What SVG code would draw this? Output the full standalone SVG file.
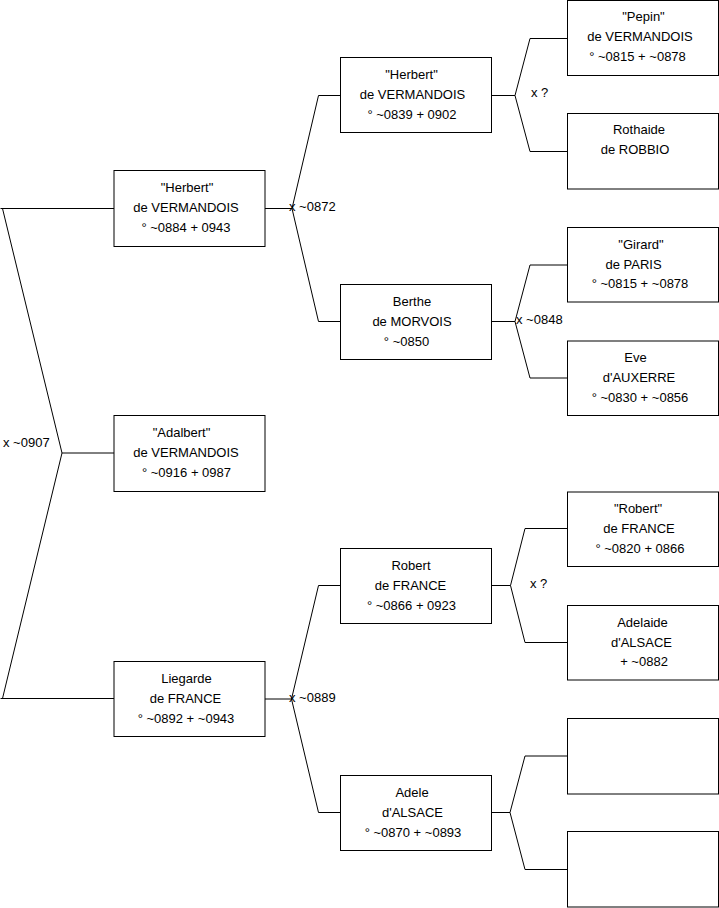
<svg xmlns="http://www.w3.org/2000/svg" width="719" height="908" viewBox="0 0 719 908">
<style>
rect.box{fill:#fff;stroke:#000;stroke-width:1}
text{font-family:"Liberation Sans",Arial,sans-serif;font-size:13px;fill:#000}
text.c{text-anchor:middle}
.conn path{fill:none;stroke:#000;stroke-width:1}
</style>
<rect width="719" height="908" fill="#fff"/>
<g class="conn" id="connectors">
<path d="M114,208.5 H0.5 M2.5,208.5 L62,453 L2.5,698.5 M0.5,698.5 H114 M62,453 H114"/>
<path d="M265,208.5 H292 L318.5,95.5 H341 M292,208.5 L318.5,321.5 H341"/>
<path d="M265,699 H291.5 L318.5,585.5 H341 M291.5,699 L318.5,812.5 H341"/>
<path d="M491.5,95.5 H515 L530,38.5 H567.5 M515,95.5 L530,151.5 H567.5"/>
<path d="M491.5,321.5 H515 L530,265 H567.5 M515,321.5 L530,378 H567.5"/>
<path d="M491.5,585.5 H510.5 L525,528.5 H567.5 M510.5,585.5 L525,642.5 H567.5"/>
<path d="M491.5,812.5 H510 L525,756 H567.5 M510,812.5 L525,869.5 H567.5"/>
</g>
<g id="labels">
<text x="3" y="447">x ~0907</text>
<text x="289" y="211">x ~0872</text>
<text x="289" y="702">x ~0889</text>
<text x="531" y="97">x ?</text>
<text x="516" y="324">x ~0848</text>
<text x="530" y="588">x ?</text>
</g>
<g id="n-herbert-0884">
<rect class="box" x="114" y="170.5" width="151" height="76"/>
<text class="c" x="187" y="191.5">"Herbert"</text>
<text class="c" x="186" y="211.5">de VERMANDOIS</text>
<text class="c" x="186" y="231.5">° ~0884 + 0943</text>
</g>
<g id="n-adalbert">
<rect class="box" x="114" y="415.5" width="151" height="76"/>
<text class="c" x="181.5" y="436.5">"Adalbert"</text>
<text class="c" x="186" y="456.5">de VERMANDOIS</text>
<text class="c" x="186.5" y="476.5">° ~0916 + 0987</text>
</g>
<g id="n-liegarde">
<rect class="box" x="114" y="661.5" width="151" height="75"/>
<text class="c" x="186.5" y="682.5">Liegarde</text>
<text class="c" x="185.5" y="702.5">de FRANCE</text>
<text class="c" x="186" y="722.5">° ~0892 + ~0943</text>
</g>
<g id="n-herbert-0839">
<rect class="box" x="340.5" y="57.5" width="151" height="75"/>
<text class="c" x="411.5" y="78.5">"Herbert"</text>
<text class="c" x="412.5" y="98.5">de VERMANDOIS</text>
<text class="c" x="412" y="118.5">° ~0839 + 0902</text>
</g>
<g id="n-berthe">
<rect class="box" x="340.5" y="284.5" width="151" height="75"/>
<text class="c" x="412" y="305.5">Berthe</text>
<text class="c" x="412" y="325.5">de MORVOIS</text>
<text class="c" x="406.5" y="345.5">° ~0850</text>
</g>
<g id="n-robert-0866">
<rect class="box" x="340.5" y="548.5" width="151" height="75"/>
<text class="c" x="411" y="569.5">Robert</text>
<text class="c" x="410.5" y="589.5">de FRANCE</text>
<text class="c" x="411.5" y="609.5">° ~0866 + 0923</text>
</g>
<g id="n-adele">
<rect class="box" x="340.5" y="775.5" width="151" height="75"/>
<text class="c" x="412" y="796.5">Adele</text>
<text class="c" x="412.5" y="816.5">d'ALSACE</text>
<text class="c" x="413" y="836.5">° ~0870 + ~0893</text>
</g>
<g id="n-pepin">
<rect class="box" x="567.5" y="0.5" width="151" height="75"/>
<text class="c" x="643.5" y="21">"Pepin"</text>
<text class="c" x="640" y="41">de VERMANDOIS</text>
<text class="c" x="637.5" y="61">° ~0815 + ~0878</text>
</g>
<g id="n-rothaide">
<rect class="box" x="567.5" y="113.5" width="151" height="75.5"/>
<text class="c" x="639" y="134">Rothaide</text>
<text class="c" x="635" y="154">de ROBBIO</text>
</g>
<g id="n-girard">
<rect class="box" x="567.5" y="227.5" width="151" height="74.5"/>
<text class="c" x="641" y="248.5">"Girard"</text>
<text class="c" x="633.5" y="268.5">de PARIS</text>
<text class="c" x="640" y="288">° ~0815 + ~0878</text>
</g>
<g id="n-eve">
<rect class="box" x="567.5" y="341" width="151" height="74.5"/>
<text class="c" x="635.5" y="362">Eve</text>
<text class="c" x="639" y="382">d'AUXERRE</text>
<text class="c" x="640" y="401.5">° ~0830 + ~0856</text>
</g>
<g id="n-robert-0820">
<rect class="box" x="567.5" y="492" width="151" height="74.5"/>
<text class="c" x="638" y="513">"Robert"</text>
<text class="c" x="639" y="533">de FRANCE</text>
<text class="c" x="640" y="552.5">° ~0820 + 0866</text>
</g>
<g id="n-adelaide">
<rect class="box" x="567.5" y="605.5" width="151" height="74.5"/>
<text class="c" x="642.5" y="626.5">Adelaide</text>
<text class="c" x="641.5" y="646.5">d'ALSACE</text>
<text class="c" x="644" y="666">+ ~0882</text>
</g>
<g id="n-empty-1">
<rect class="box" x="567.5" y="718.5" width="151" height="75.5"/>
</g>
<g id="n-empty-2">
<rect class="box" x="567.5" y="831.5" width="151" height="75.5"/>
</g>
</svg>
